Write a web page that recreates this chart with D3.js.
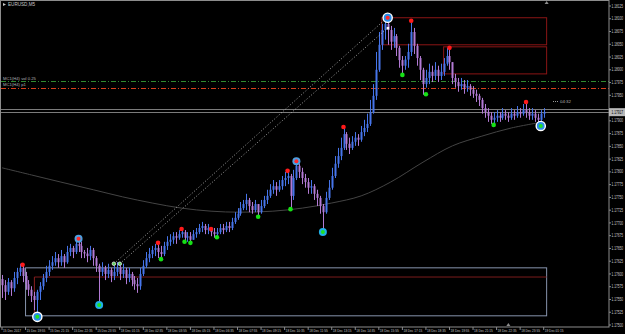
<!DOCTYPE html>
<html>
<head>
<meta charset="utf-8">
<style>
  html, body { margin: 0; background: #000; overflow: hidden; }
  svg { display: block; }
  text { font-family: "Liberation Sans", Arial, sans-serif; }
</style>
<script src="https://cdn.jsdelivr.net/npm/d3@7"></script>
</head>
<body>
<svg id="chart" width="625" height="334"></svg>
<script>
const symbol = 'EURUSD,M5';
const firstOpen = 1.17590;

const highs = [
  1.17598,1.17588,1.17592,1.17588,1.17604,1.17612,1.17620,1.17616,1.17604,1.17588,
  1.17576,1.17565,1.17569,1.17584,1.17600,1.17616,1.17627,1.17635,1.17643,1.17639,
  1.17647,1.17639,1.17655,1.17659,1.17655,1.17667,1.17671,1.17663,1.17647,
  1.17651,1.17655,1.17651,1.17635,1.17620,1.17623,1.17616,1.17620,1.17612,1.17616,
  1.17623,1.17616,1.17620,1.17612,1.17612,1.17604,1.17596,1.17592,1.17612,1.17627,
  1.17643,1.17651,1.17655,1.17659,1.17661,1.17655,1.17663,1.17674,1.17678,1.17682,
  1.17682,1.17686,1.17688,1.17686,1.17682,1.17682,1.17686,1.17690,1.17698,1.17702,
  1.17698,1.17698,1.17690,1.17690,1.17690,1.17698,1.17698,1.17702,1.17702,1.17710,
  1.17721,1.17729,1.17741,1.17745,
  1.17757,1.17749,1.17741,1.17745,1.17737,1.17745,1.17753,1.17765,1.17776,1.17784,
  1.17780,1.17784,1.17792,1.17800,1.17802,1.17796,1.17804,1.17821,1.17816,1.17808,
  1.17796,1.17788,1.17784,1.17776,1.17765,1.17753,1.17737,1.17761,1.17784,1.17808,
  1.17831,1.17847,1.17867,1.17888,1.17878,1.17867,1.17870,1.17878,1.17874,1.17890,
  1.17902,1.17914,1.17941,1.17972,1.18035,1.18074,1.18090,1.18102,1.18104,1.18086,
  1.18082,1.18070,1.18047,1.18027,1.18027,
  1.18051,1.18094,1.18082,1.18051,1.18027,1.18004,1.18000,1.18012,1.18008,1.18015,
  1.18008,1.18012,1.18023,1.18043,1.18039,1.18015,1.17992,1.17984,1.17984,1.17980,
  1.17980,1.17972,1.17968,1.17961,1.17953,1.17945,1.17933,1.17925,1.17917,1.17917,
  1.17921,1.17917,1.17925,1.17921,1.17917,1.17925,1.17921,1.17929,1.17925,1.17933,
  1.17937,1.17925,1.17925,1.17921,1.17914,1.17921,1.17925
];

const lows = [
  1.17553,1.17549,1.17559,1.17557,1.17565,1.17580,1.17596,1.17584,1.17569,1.17557,
  1.17545,1.17529,1.17516,1.17549,1.17569,1.17584,1.17596,1.17608,1.17616,1.17612,
  1.17616,1.17612,1.17620,1.17635,1.17631,1.17639,1.17643,1.17631,1.17631,
  1.17623,1.17627,1.17616,1.17604,1.17541,1.17596,1.17588,1.17592,1.17584,1.17588,
  1.17596,1.17588,1.17592,1.17580,1.17584,1.17576,1.17569,1.17563,1.17569,1.17596,
  1.17612,1.17623,1.17631,1.17635,1.17631,1.17627,1.17635,1.17647,1.17655,1.17659,
  1.17659,1.17667,1.17671,1.17663,1.17663,1.17661,1.17667,1.17671,1.17678,1.17682,
  1.17678,1.17678,1.17674,1.17671,1.17672,1.17678,1.17678,1.17682,1.17682,1.17686,
  1.17698,1.17706,1.17714,1.17725,
  1.17725,1.17721,1.17718,1.17721,1.17712,1.17718,1.17729,1.17737,1.17749,1.17757,
  1.17753,1.17761,1.17765,1.17772,1.17776,1.17727,1.17745,1.17784,1.17788,1.17776,
  1.17769,1.17757,1.17757,1.17745,1.17733,1.17718,1.17682,1.17718,1.17745,1.17765,
  1.17788,1.17808,1.17823,1.17843,1.17843,1.17835,1.17843,1.17851,1.17851,1.17859,
  1.17870,1.17878,1.17890,1.17914,1.17941,1.17996,1.18039,1.18059,1.18049,1.18039,
  1.18043,1.18027,1.18004,1.17992,1.18000,
  1.18004,1.18027,1.18031,1.18008,1.17980,1.17951,1.17965,1.17972,1.17976,1.17980,
  1.17976,1.17980,1.17988,1.18008,1.18000,1.17972,1.17965,1.17957,1.17961,1.17953,
  1.17957,1.17949,1.17945,1.17937,1.17929,1.17914,1.17906,1.17898,1.17894,1.17892,
  1.17898,1.17898,1.17902,1.17902,1.17898,1.17902,1.17902,1.17906,1.17906,1.17910,
  1.17906,1.17902,1.17902,1.17898,1.17894,1.17894,1.17906
];

const closes = [
  1.17578,1.17565,1.17584,1.17572,1.17592,1.17604,1.17612,1.17596,1.17580,1.17569,
  1.17557,1.17549,1.17565,1.17576,1.17592,1.17604,1.17616,1.17623,1.17631,1.17623,
  1.17635,1.17623,1.17643,1.17651,1.17643,1.17659,1.17655,1.17643,1.17640,
  1.17635,1.17647,1.17631,1.17616,1.17604,1.17612,1.17600,1.17608,1.17596,1.17604,
  1.17612,1.17600,1.17608,1.17592,1.17600,1.17588,1.17580,1.17576,1.17600,1.17616,
  1.17631,1.17639,1.17647,1.17651,1.17643,1.17639,1.17655,1.17663,1.17667,1.17674,
  1.17671,1.17678,1.17682,1.17671,1.17674,1.17667,1.17678,1.17682,1.17690,1.17694,
  1.17686,1.17690,1.17682,1.17678,1.17682,1.17690,1.17686,1.17694,1.17690,1.17702,
  1.17710,1.17718,1.17729,1.17737,
  1.17745,1.17733,1.17725,1.17737,1.17721,1.17733,1.17745,1.17753,1.17765,1.17772,
  1.17765,1.17772,1.17784,1.17788,1.17792,1.17753,1.17788,1.17812,1.17800,1.17788,
  1.17780,1.17769,1.17772,1.17757,1.17749,1.17733,1.17721,1.17749,1.17769,1.17792,
  1.17816,1.17831,1.17847,1.17874,1.17855,1.17847,1.17859,1.17867,1.17863,1.17878,
  1.17886,1.17894,1.17917,1.17949,1.18000,1.18049,1.18078,1.18090,1.18078,1.18055,
  1.18066,1.18043,1.18019,1.18008,1.18020,
  1.18035,1.18074,1.18047,1.18023,1.18000,1.17972,1.17984,1.17996,1.17988,1.18000,
  1.17988,1.17996,1.18012,1.18027,1.18015,1.17984,1.17976,1.17968,1.17972,1.17965,
  1.17968,1.17961,1.17953,1.17949,1.17941,1.17925,1.17917,1.17910,1.17902,1.17906,
  1.17910,1.17906,1.17914,1.17910,1.17906,1.17914,1.17910,1.17917,1.17914,1.17921,
  1.17917,1.17910,1.17914,1.17906,1.17902,1.17914,1.17917
];

// one label every 16 M5 bars (every 8 entries above)
const timeLabels = [
  '15 Dec 2017','15 Dec 19:55','15 Dec 21:15','15 Dec 22:35','15 Dec 23:55',
  '18 Dec 01:15','18 Dec 02:35','18 Dec 03:55','18 Dec 05:15','18 Dec 06:35',
  '18 Dec 07:55','18 Dec 09:15','18 Dec 10:35','18 Dec 11:55','18 Dec 13:15',
  '18 Dec 14:35','18 Dec 15:55','18 Dec 17:15','18 Dec 18:35','18 Dec 19:55',
  '18 Dec 21:15','18 Dec 22:35','18 Dec 23:55','19 Dec 01:15'
];
const priceTicks = d3.range(26).map(k => 1.17500 + k * 0.00025);

// long moving average, read at a few bars
const maIndex = [0,10,20,31,41,51,61,71,81,92,102,112,122,132,143,153,163,173,184];
const maValues = [1.17808,1.17794,1.17780,1.17765,1.17751,1.17739,1.17729,1.17723,1.17721,
  1.17723,1.17729,1.17739,1.17753,1.17780,1.17819,1.17851,1.17870,1.17886,1.17898];

// fractal dots
const fracUpIdx = [7,53,61,71,97,116,139,152,178];
const fracUpVal = [1.17618,1.17661,1.17688,1.17688,1.17802,1.17888,1.18096,1.18043,1.17937];
const fracDnIdx = [54,62,64,73,87,98,136,144,167];
const fracDnVal = [1.17629,1.17663,1.17661,1.17672,1.17712,1.17727,1.17990,1.17952,1.17892];

// swing signals
const sigIdx = [131,12,183,26,100,33,109];
const sigVal = [1.18102,1.17516,1.17890,1.17669,1.17821,1.17539,1.17682];
const sigSide = ['sell','buy','buy','sell','sell','buy','buy'];
const sigMajor = [true,true,true,false,false,false,false];

// channel lines (dotted)
const chanFromIdx = [38,40];
const chanFromVal = [1.17620,1.17620];
const chanToIdx = [130,131];
const chanToVal = [1.18098,1.18082];

// supply zones and range box
const zoneFrom = [129,150];
const zoneTo = [185,185];
const zoneTop = [1.18102,1.18045];
const zoneBottom = [1.18049,1.17992];
const rangeBox = { from: 8, to: 185, top: 1.17612, bottom: 1.17518 };
const baseLine = { from: 11, to: 185, value: 1.17594, low: 1.17516 };

const levelValues = [1.17978, 1.17965];
const levelNames = ['MC1(H4) vol 0.25', 'MC1(H4) p1'];
const bid = 1.17917;
const ask = 1.17924;
const countdown = '04:32';

const W = 625, H = 334;
const plotRight = 609, plotBottom = 327;
const svg = d3.select('#chart');
svg.append('rect').attr('width', W).attr('height', H).attr('fill', '#000');

const x = d3.scaleLinear().domain([0, 184]).range([2, 2 + 184 * 2.944]);
const y = d3.scaleLinear().domain([1.17500, 1.18125]).range([325, 6]);

const n = closes.length;
const bars = closes.map((c, i) => {
  const o = i === 0 ? firstOpen : closes[i - 1];
  return { i, o, c, h: Math.max(highs[i], o, c), l: Math.min(lows[i], o, c) };
});

// range box and base line
svg.append('rect')
  .attr('x', x(rangeBox.from)).attr('y', y(rangeBox.top))
  .attr('width', x(rangeBox.to) - x(rangeBox.from))
  .attr('height', y(rangeBox.bottom) - y(rangeBox.top))
  .attr('fill', 'none').attr('stroke', '#8794ad').attr('stroke-width', 1);
svg.append('line')
  .attr('x1', x(baseLine.from)).attr('x2', x(baseLine.to))
  .attr('y1', y(baseLine.value)).attr('y2', y(baseLine.value))
  .attr('stroke', '#7a1c1c');
svg.append('line')
  .attr('x1', x(baseLine.from)).attr('x2', x(baseLine.from))
  .attr('y1', y(baseLine.value)).attr('y2', y(baseLine.low))
  .attr('stroke', '#8b1f1f');

// zones
zoneFrom.forEach((f, k) => {
  svg.append('rect')
    .attr('x', x(f)).attr('y', y(zoneTop[k]))
    .attr('width', x(zoneTo[k]) - x(f))
    .attr('height', y(zoneBottom[k]) - y(zoneTop[k]))
    .attr('fill', 'none').attr('stroke', '#8a1515').attr('stroke-width', 1);
});

// horizontal levels
const levelColors = ['#2f8a2f', '#d8401c'];
levelValues.forEach((v, k) => {
  svg.append('line')
    .attr('x1', 1).attr('x2', plotRight)
    .attr('y1', Math.round(y(v)) + 0.5).attr('y2', Math.round(y(v)) + 0.5)
    .attr('stroke', levelColors[k]).attr('stroke-dasharray', '5,2,1,2');
  svg.append('text')
    .attr('x', 3).attr('y', y(v) - 1.5)
    .attr('font-size', 4.2).attr('fill', '#b0b0b0')
    .text(levelNames[k]);
});

// bid / ask lines
[ask, bid].forEach(v => {
  svg.append('line')
    .attr('x1', 1).attr('x2', plotRight)
    .attr('y1', Math.round(y(v)) + 0.5).attr('y2', Math.round(y(v)) + 0.5)
    .attr('stroke', '#9a9a9a').attr('stroke-width', 0.8);
});

// moving average
const maLine = d3.line()
  .x(p => x(p[0])).y(p => y(p[1]))
  .curve(d3.curveCatmullRom.alpha(0.5));
svg.append('path')
  .datum(maIndex.map((i, k) => [i, maValues[k]]))
  .attr('fill', 'none').attr('stroke', '#444').attr('stroke-width', 1)
  .attr('d', maLine);

// candles
const up = '#4675ea', down = '#b27ad4';
const cg = svg.append('g');
cg.selectAll('line.wick').data(bars).join('line')
  .attr('class', 'wick')
  .attr('x1', d => Math.round(x(d.i)) + 0.5).attr('x2', d => Math.round(x(d.i)) + 0.5)
  .attr('y1', d => y(d.h)).attr('y2', d => y(d.l))
  .attr('stroke', d => d.c >= d.o ? up : down).attr('stroke-width', 1);
cg.selectAll('rect.body').data(bars).join('rect')
  .attr('class', 'body')
  .attr('x', d => Math.round(x(d.i)) - 0.5)
  .attr('width', 2)
  .attr('y', d => y(Math.max(d.o, d.c)))
  .attr('height', d => Math.max(1, Math.abs(y(d.o) - y(d.c))))
  .attr('fill', d => d.c >= d.o ? up : down);

// dotted channel
chanFromIdx.forEach((f, k) => {
  svg.append('line')
    .attr('x1', x(f)).attr('y1', y(chanFromVal[k]))
    .attr('x2', x(chanToIdx[k])).attr('y2', y(chanToVal[k]))
    .attr('stroke', '#c8c8c8').attr('stroke-width', 0.8).attr('stroke-dasharray', '1,2');
  svg.append('circle')
    .attr('cx', x(f)).attr('cy', y(chanFromVal[k])).attr('r', 1.8)
    .attr('fill', '#5fd35f').attr('stroke', '#fff').attr('stroke-width', 0.7);
});
svg.append('rect')
  .attr('x', x(chanToIdx[1]) - 1).attr('y', y(chanToVal[1]) - 1)
  .attr('width', 2.5).attr('height', 2.5).attr('fill', '#fff');

// fractals
fracUpIdx.forEach((i, k) => {
  svg.append('circle').attr('cx', x(i)).attr('cy', y(fracUpVal[k]))
    .attr('r', 2.3).attr('fill', '#ff1a1a');
});
fracDnIdx.forEach((i, k) => {
  svg.append('circle').attr('cx', x(i)).attr('cy', y(fracDnVal[k]))
    .attr('r', 2.3).attr('fill', '#16e016');
});

// swing signals
sigIdx.forEach((i, k) => {
  const cx = x(i), cy = y(sigVal[k]);
  const center = sigSide[k] === 'sell' ? '#ff2a2a' : '#22e022';
  if (sigMajor[k]) {
    svg.append('circle').attr('cx', cx).attr('cy', cy).attr('r', 4.6)
      .attr('fill', '#2a8ce8').attr('stroke', '#fff').attr('stroke-width', 1.4);
  } else {
    svg.append('circle').attr('cx', cx).attr('cy', cy).attr('r', 4)
      .attr('fill', sigSide[k] === 'sell' ? '#4f9fe0' : '#1fb0e8');
  }
  svg.append('circle').attr('cx', cx).attr('cy', cy).attr('r', 2).attr('fill', center);
});

// frame
svg.append('rect')
  .attr('x', 0.5).attr('y', 0.5)
  .attr('width', plotRight - 0.5).attr('height', plotBottom - 0.5)
  .attr('fill', 'none').attr('stroke', '#8c8c8c').attr('stroke-width', 1);

// price axis (labels squeezed horizontally to fit the narrow strip)
const axisG = svg.append('g');
priceTicks.forEach(v => {
  const py = y(v);
  if (Math.abs(py - y(bid)) < 6) return;
  axisG.append('line').attr('x1', plotRight).attr('x2', plotRight + 2)
    .attr('y1', py).attr('y2', py).attr('stroke', '#8c8c8c');
  axisG.append('text')
    .attr('transform', `translate(${plotRight + 2.5},${py + 1.6}) scale(0.7,1)`)
    .attr('font-size', 4.6).attr('fill', '#c4c4c4')
    .text(v.toFixed(5));
});
svg.append('rect').attr('x', plotRight).attr('y', y(bid) - 4)
  .attr('width', W - plotRight).attr('height', 8)
  .attr('fill', '#b9b9b9');
svg.append('text')
  .attr('transform', `translate(${plotRight + 2.5},${y(bid) + 1.7}) scale(0.7,1)`)
  .attr('font-size', 4.6).attr('fill', '#000')
  .text(bid.toFixed(5));

// countdown
svg.append('line').attr('x1', 553).attr('x2', 558).attr('y1', 101.5).attr('y2', 101.5)
  .attr('stroke', '#9a9a9a').attr('stroke-dasharray', '1,1');
svg.append('text').attr('x', 560).attr('y', 103)
  .attr('font-size', 4.4).attr('fill', '#b0b0b0').text(countdown);

// time axis
timeLabels.forEach((t, k) => {
  const tx = x(k * 8);
  svg.append('line').attr('x1', tx).attr('x2', tx)
    .attr('y1', plotBottom).attr('y2', plotBottom + 3).attr('stroke', '#8c8c8c');
  svg.append('text')
    .attr('transform', `translate(${tx + 1},332) scale(0.72,1)`)
    .attr('font-size', 4.4).attr('fill', '#c4c4c4')
    .text(t);
});

// shift markers and title
svg.append('path').attr('d', `M${x(185)},1 l-2,3 l4,0 z`).attr('fill', '#8c8c8c');
svg.append('path').attr('d', `M${x(172)},323 l-2,3 l4,0 z`).attr('fill', '#8c8c8c');
svg.append('path').attr('d', 'M3,3 l3,1.5 l-3,1.5 z').attr('fill', '#c4c4c4');
svg.append('text').attr('x', 8).attr('y', 6.2)
  .attr('font-size', 4.6).attr('fill', '#c4c4c4')
  .text(symbol);

if (highs.length !== n || lows.length !== n) console.warn('length mismatch', highs.length, lows.length, n);
</script>
</body>
</html>
